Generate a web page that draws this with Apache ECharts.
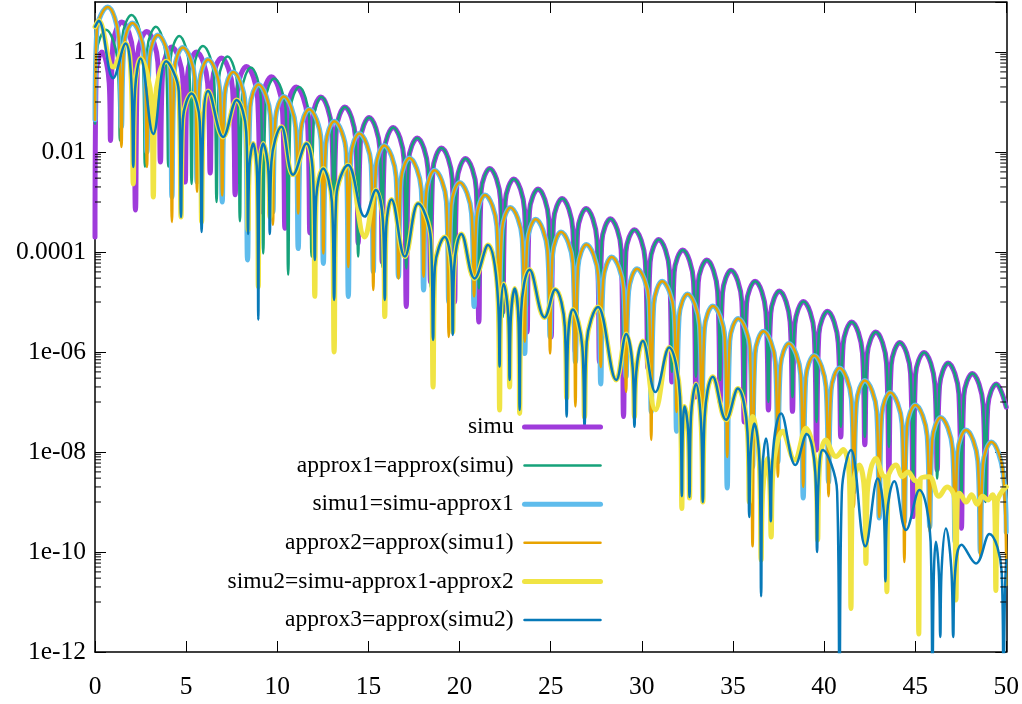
<!DOCTYPE html>
<html>
<head>
<meta charset="utf-8">
<script src="https://cdn.jsdelivr.net/npm/echarts@6.0.0/dist/echarts.min.js"></script>
<style>
  html, body { margin: 0; padding: 0; background: #fff; }
  #chart { width: 1022px; height: 704px; }
</style>
</head>
<body>
<div id="chart"></div>
<script>
// x axis ticks
const xTicks = [0, 5, 10, 15, 20, 25, 30, 35, 40, 45, 50];
// y axis labelled (major) ticks and their texts
const yTickValues = [1e-12, 1e-10, 1e-8, 1e-6, 1e-4, 1e-2, 1];
const yTickLabels = ['1e-12', '1e-10', '1e-08', '1e-06', '0.0001', '0.01', '1'];
// minor ticks: 1..9 times these decades
const minorTickDecades = [1e-11, 1e-9, 1e-7, 1e-5, 1e-3, 1e-1];
const minorTickSteps = [1, 2, 3, 4, 5, 6, 7, 8, 9];

const seriesNames = ['simu', 'approx1=approx(simu)', 'simu1=simu-approx1',
  'approx2=approx(simu1)', 'simu2=simu-approx1-approx2', 'approx3=approx(simu2)'];

// |simu| : [x, value]
const simu = [
  [0, 2e-4], [0.06, 0.35], [0.38, 1.0], [0.78, 0.24],
  [0.85, 1.7e-2], [0.98, 1.4], [1.47, 4.0], [2.08, 0.95],
  [2.22, 6.9e-4], [2.35, 0.91], [2.84, 2.57], [3.45, 0.62],
  [3.59, 6.3e-3], [3.72, 0.45], [4.21, 1.26], [4.81, 0.30],
  [4.95, 2.5e-3], [5.08, 0.35], [5.57, 1.0], [6.18, 0.24],
  [6.32, 3.8e-3], [6.45, 0.27], [6.94, 0.76], [7.55, 0.18],
  [7.69, 1.4e-3], [7.82, 0.18], [8.31, 0.51], [8.92, 0.123],
  [9.06, 6.3e-4], [9.19, 0.115], [9.68, 0.32], [10.28, 0.078],
  [10.42, 3.0e-4], [10.55, 0.072], [11.04, 0.20], [11.65, 0.049],
  [11.79, 2.4e-4], [11.92, 0.045], [12.39, 0.126], [12.98, 0.030],
  [13.11, 3.2e-4], [13.24, 0.028], [13.71, 0.079], [14.30, 0.019],
  [14.44, 1.5e-4], [14.57, 0.0174], [15.04, 0.049], [15.63, 0.0117],
  [15.76, 6.3e-5], [15.89, 0.011], [16.36, 0.031], [16.95, 7.4e-3],
  [17.08, 8.1e-6], [17.21, 6.8e-3], [17.68, 0.019], [18.27, 4.6e-3],
  [18.41, 2.5e-5], [18.54, 4.3e-3], [19.01, 0.012], [19.60, 2.9e-3],
  [19.73, 1e-5], [19.86, 2.6e-3], [20.33, 7.4e-3], [20.92, 1.8e-3],
  [21.06, 4e-6], [21.19, 1.66e-3], [21.66, 4.7e-3], [22.25, 1.12e-3],
  [22.38, 6.3e-6], [22.51, 1.02e-3], [22.98, 2.9e-3], [23.57, 6.9e-4],
  [23.71, 2.5e-6], [23.84, 6.5e-4], [24.31, 1.82e-3], [24.90, 4.4e-4],
  [25.03, 2.0e-6], [25.16, 4.2e-4], [25.63, 1.17e-3], [26.22, 2.8e-4],
  [26.35, 1e-6], [26.48, 2.6e-4], [26.95, 7.4e-4], [27.54, 1.78e-4],
  [27.68, 6.3e-7], [27.81, 1.62e-4], [28.28, 4.6e-4], [28.87, 1.1e-4],
  [29.00, 5.1e-8], [29.13, 1.0e-4], [29.60, 2.8e-4], [30.19, 6.8e-5],
  [30.33, 4.8e-7], [30.46, 6.3e-5], [30.93, 1.78e-4], [31.52, 4.3e-5],
  [31.65, 2.5e-7], [31.78, 3.9e-5], [32.25, 1.1e-4], [32.84, 2.6e-5],
  [32.97, 1.26e-7], [33.10, 2.45e-5], [33.57, 6.9e-5], [34.16, 1.66e-5],
  [34.30, 1e-7], [34.43, 1.51e-5], [34.90, 4.3e-5], [35.49, 1.02e-5],
  [35.62, 4e-8], [35.75, 9.3e-6], [36.22, 2.6e-5], [36.81, 6.3e-6],
  [36.95, 6.9e-8], [37.08, 5.9e-6], [37.55, 1.66e-5], [38.14, 4.0e-6],
  [38.27, 6.5e-8], [38.40, 3.6e-6], [38.87, 1.02e-5], [39.46, 2.45e-6],
  [39.59, 1.1e-8], [39.72, 2.3e-6], [40.19, 6.5e-6], [40.78, 1.55e-6],
  [40.92, 2.0e-8], [41.05, 1.41e-6], [41.52, 4.0e-6], [42.11, 9.5e-7],
  [42.24, 1.4e-8], [42.37, 8.9e-7], [42.84, 2.5e-6], [43.43, 6.0e-7],
  [43.56, 3.8e-9], [43.69, 5.5e-7], [44.16, 1.55e-6], [44.75, 3.7e-7],
  [44.89, 5.1e-10], [45.02, 3.5e-7], [45.49, 9.8e-7], [46.08, 2.3e-7],
  [46.21, 4.4e-9], [46.34, 2.1e-7], [46.81, 6.0e-7], [47.40, 1.45e-7],
  [47.54, 3.0e-10], [47.67, 1.32e-7], [48.14, 3.7e-7], [48.73, 8.9e-8],
  [48.86, 1.1e-9], [48.99, 8.3e-8], [49.46, 2.3e-7], [50, 7.9e-8]
];

// |approx1|
const approx1 = [
  [0, 0.037], [0.1, 1.0], [0.6, 2.8], [1.23, 0.7],
  [1.37, 0.017], [1.5, 1.95], [2.0, 5.5], [2.6, 1.32],
  [2.74, 5.1e-3], [2.87, 1.15], [3.34, 3.2], [3.89, 0.78],
  [4.02, 5.1e-3], [4.15, 0.74], [4.62, 2.1], [5.17, 0.5],
  [5.3, 2.3e-3], [5.43, 0.47], [5.92, 1.32], [6.53, 0.32],
  [6.67, 1.0e-3], [6.8, 0.29], [7.27, 0.81], [7.82, 0.195],
  [7.95, 4.1e-4], [8.08, 0.174], [8.55, 0.49], [9.1, 0.117],
  [9.23, 9.3e-5], [9.36, 0.105], [9.83, 0.295], [10.46, 0.071],
  [10.6, 3.5e-5], [10.73, 0.071], [11.2, 0.20], [11.75, 0.048],
  [11.88, 8.1e-5], [12.0, 0.045], [12.42, 0.126], [12.98, 0.030],
  [13.11, 9.3e-5], [13.24, 0.028], [13.71, 0.079], [14.30, 0.019],
  [14.44, 8.1e-5], [14.57, 0.0174], [15.04, 0.049], [15.63, 0.0117],
  [15.76, 5.0e-5], [15.89, 0.011], [16.36, 0.031], [16.95, 7.4e-3],
  [17.08, 4.7e-5], [17.21, 6.8e-3], [17.68, 0.019], [18.27, 4.6e-3],
  [18.41, 2.0e-5], [18.54, 4.3e-3], [19.01, 0.012], [19.60, 2.9e-3],
  [19.73, 2.75e-5], [19.86, 2.6e-3], [20.33, 7.4e-3], [20.92, 1.8e-3],
  [21.06, 1.86e-5], [21.19, 1.66e-3], [21.66, 4.7e-3], [22.25, 1.12e-3],
  [22.38, 5.0e-6], [22.51, 1.02e-3], [22.98, 2.9e-3], [23.57, 6.9e-4],
  [23.71, 7.9e-6], [23.84, 6.5e-4], [24.31, 1.82e-3], [24.90, 4.4e-4],
  [25.03, 3.2e-6], [25.16, 4.2e-4], [25.63, 1.17e-3], [26.22, 2.8e-4],
  [26.35, 2.0e-6], [26.48, 2.6e-4], [26.95, 7.4e-4], [27.54, 1.78e-4],
  [27.68, 1.26e-6], [27.81, 1.62e-4], [28.28, 4.6e-4], [28.87, 1.1e-4],
  [29.00, 5.0e-7], [29.13, 1.0e-4], [29.60, 2.8e-4], [30.19, 6.8e-5],
  [30.33, 7.9e-7], [30.46, 6.3e-5], [30.93, 1.78e-4], [31.52, 4.3e-5],
  [31.65, 4.0e-7], [31.78, 3.9e-5], [32.25, 1.1e-4], [32.84, 2.6e-5],
  [32.97, 3.2e-7], [33.10, 2.45e-5], [33.57, 6.9e-5], [34.16, 1.66e-5],
  [34.30, 2.75e-7], [34.43, 1.51e-5], [34.90, 4.3e-5], [35.49, 1.02e-5],
  [35.62, 1.26e-7], [35.75, 9.3e-6], [36.22, 2.6e-5], [36.81, 6.3e-6],
  [36.95, 1.0e-7], [37.08, 5.9e-6], [37.55, 1.66e-5], [38.14, 4.0e-6],
  [38.27, 1.26e-7], [38.40, 3.6e-6], [38.87, 1.02e-5], [39.46, 2.45e-6],
  [39.59, 4.0e-8], [39.72, 2.3e-6], [40.19, 6.5e-6], [40.78, 1.55e-6],
  [40.92, 3.2e-8], [41.05, 1.41e-6], [41.52, 4.0e-6], [42.11, 9.5e-7],
  [42.24, 2.0e-8], [42.37, 8.9e-7], [42.84, 2.5e-6], [43.43, 6.0e-7],
  [43.56, 1.26e-8], [43.69, 5.5e-7], [44.16, 1.55e-6], [44.75, 3.7e-7],
  [44.89, 2.5e-9], [45.02, 3.5e-7], [45.49, 9.8e-7], [46.08, 2.3e-7],
  [46.21, 2.95e-9], [46.34, 2.1e-7], [46.81, 6.0e-7], [47.40, 1.45e-7],
  [47.54, 1.26e-9], [47.67, 1.32e-7], [48.14, 3.7e-7], [48.73, 8.9e-8],
  [48.86, 1.0e-9], [48.99, 8.3e-8], [49.46, 2.3e-7], [50, 7.9e-8]
];

// |simu1|
const simu1 = [
  [0, 0.044], [0.1, 2.8], [0.7, 7.9], [1.3, 1.9],
  [1.45, 0.032], [1.59, 1.35], [2.05, 3.8], [2.7, 0.91],
  [2.85, 0.01], [2.99, 0.78], [3.45, 2.19], [4.1, 0.52],
  [4.22, 1.26e-3], [4.36, 0.44], [4.82, 1.23], [5.47, 0.30],
  [5.6, 2.5e-3], [5.74, 0.25], [6.2, 0.71], [6.85, 0.17],
  [6.98, 1e-3], [7.12, 0.141], [7.58, 0.40], [8.23, 0.095],
  [8.37, 6.9e-5], [8.51, 0.079], [8.97, 0.224], [9.62, 0.054],
  [9.76, 6.3e-4], [9.9, 0.046], [10.36, 0.129], [11.01, 0.031],
  [11.15, 1.17e-4], [11.29, 0.026], [11.75, 0.072], [12.4, 0.0174],
  [12.53, 5.9e-5], [12.67, 0.0145], [13.13, 0.041], [13.78, 9.8e-3],
  [13.9, 1.29e-5], [14.04, 8.3e-3], [14.5, 0.0234], [15.15, 5.6e-3],
  [15.27, 4e-5], [15.41, 4.8e-3], [15.87, 0.0135], [16.52, 3.2e-3],
  [16.65, 3.2e-5], [16.79, 2.7e-3], [17.25, 7.6e-3], [17.9, 1.82e-3],
  [18.03, 1.74e-5], [18.17, 1.51e-3], [18.63, 4.3e-3], [19.28, 1.02e-3],
  [19.41, 1e-5], [19.55, 8.7e-4], [20.01, 2.45e-3], [20.66, 5.9e-4],
  [20.80, 8.1e-6], [20.94, 4.9e-4], [21.40, 1.38e-3], [22.05, 3.3e-4],
  [22.19, 4e-6], [22.33, 2.75e-4], [22.79, 7.8e-4], [23.44, 1.86e-4],
  [23.58, 9.3e-7], [23.72, 1.58e-4], [24.18, 4.5e-4], [24.83, 1.07e-4],
  [24.97, 2.0e-6], [25.11, 8.9e-5], [25.57, 2.5e-4], [26.22, 6.0e-5],
  [26.36, 6.3e-7], [26.5, 5.0e-5], [26.96, 1.41e-4], [27.61, 3.4e-5],
  [27.75, 2.3e-7], [27.89, 2.8e-5], [28.35, 7.9e-5], [29.0, 1.9e-5],
  [29.14, 3.2e-7], [29.28, 1.62e-5], [29.74, 4.6e-5], [30.39, 1.1e-5],
  [30.52, 6.3e-8], [30.66, 9.1e-6], [31.12, 2.6e-5], [31.77, 6.2e-6],
  [31.91, 2.6e-8], [32.05, 5.1e-6], [32.51, 1.45e-5], [33.16, 3.5e-6],
  [33.30, 4e-8], [33.44, 2.95e-6], [33.9, 8.3e-6], [34.55, 2.0e-6],
  [34.69, 1.9e-9], [34.83, 1.66e-6], [35.29, 4.7e-6], [35.94, 1.12e-6],
  [36.08, 5e-9], [36.22, 9.3e-7], [36.68, 2.6e-6], [37.33, 6.3e-7],
  [37.47, 6.3e-9], [37.61, 5.2e-7], [38.07, 1.48e-6], [38.72, 3.5e-7],
  [38.86, 1.2e-9], [39.0, 3.0e-7], [39.46, 8.5e-7], [40.11, 2.0e-7],
  [40.25, 2.5e-9], [40.39, 1.7e-7], [40.85, 4.8e-7], [41.5, 1.15e-7],
  [41.64, 1.6e-9], [41.78, 9.5e-8], [42.24, 2.7e-7], [42.89, 6.5e-8],
  [43.03, 4.8e-10], [43.17, 5.5e-8], [43.63, 1.55e-7], [44.28, 3.7e-8],
  [44.41, 4e-10], [44.55, 3.1e-8], [45.01, 8.7e-8], [45.66, 2.1e-8],
  [45.80, 3.2e-10], [45.94, 1.74e-8], [46.4, 4.9e-8], [47.05, 1.17e-8],
  [47.19, 1.6e-10], [47.33, 9.8e-9], [47.79, 2.75e-8], [48.44, 6.6e-9],
  [48.58, 1e-10], [48.72, 5.6e-9], [49.18, 1.58e-8], [49.83, 3.8e-9],
  [50, 2.5e-10]
];

// |approx2|
const approx2 = [
  [0, 0.044], [0.1, 2.8], [0.7, 7.9], [1.3, 1.9],
  [1.45, 0.0126], [1.59, 1.35], [2.05, 3.8], [2.7, 0.91],
  [2.85, 5e-3], [2.99, 0.78], [3.45, 2.19], [4.1, 0.52],
  [4.22, 4e-4], [4.36, 0.44], [4.82, 1.23], [5.47, 0.30],
  [5.6, 1.6e-3], [5.74, 0.25], [6.2, 0.71], [6.85, 0.17],
  [6.98, 1.35e-3], [7.12, 0.141], [7.58, 0.40], [8.23, 0.095],
  [8.37, 3.2e-4], [8.51, 0.079], [8.97, 0.224], [9.62, 0.054],
  [9.76, 3.5e-4], [9.9, 0.046], [10.36, 0.129], [11.01, 0.031],
  [11.15, 5.9e-4], [11.29, 0.026], [11.75, 0.072], [12.4, 0.0174],
  [12.53, 9.3e-5], [12.67, 0.0145], [13.13, 0.041], [13.78, 9.8e-3],
  [13.9, 5e-5], [14.04, 8.3e-3], [14.5, 0.0234], [15.15, 5.6e-3],
  [15.27, 1.74e-5], [15.41, 4.8e-3], [15.87, 0.0135], [16.52, 3.2e-3],
  [16.65, 2.95e-5], [16.79, 2.7e-3], [17.25, 7.6e-3], [17.9, 1.82e-3],
  [18.03, 3.2e-5], [18.17, 1.51e-3], [18.63, 4.3e-3], [19.28, 1.02e-3],
  [19.41, 2e-6], [19.55, 8.7e-4], [20.01, 2.45e-3], [20.66, 5.9e-4],
  [20.80, 1.29e-5], [20.94, 4.9e-4], [21.40, 1.38e-3], [22.05, 3.3e-4],
  [22.19, 2.5e-6], [22.33, 2.75e-4], [22.79, 7.8e-4], [23.44, 1.86e-4],
  [23.58, 1.6e-6], [23.72, 1.58e-4], [24.18, 4.5e-4], [24.83, 1.07e-4],
  [24.97, 9.3e-7], [25.11, 8.9e-5], [25.57, 2.5e-4], [26.22, 6.0e-5],
  [26.36, 8.1e-8], [26.5, 5.0e-5], [26.96, 1.41e-4], [27.61, 3.4e-5],
  [27.75, 5e-7], [27.89, 2.8e-5], [28.35, 7.9e-5], [29.0, 1.9e-5],
  [29.14, 1.6e-7], [29.28, 1.62e-5], [29.74, 4.6e-5], [30.39, 1.1e-5],
  [30.52, 1.74e-8], [30.66, 9.1e-6], [31.12, 2.6e-5], [31.77, 6.2e-6],
  [31.91, 6.3e-8], [32.05, 5.1e-6], [32.51, 1.45e-5], [33.16, 3.5e-6],
  [33.30, 1.26e-8], [33.44, 2.95e-6], [33.9, 8.3e-6], [34.55, 2.0e-6],
  [34.69, 7.9e-9], [34.83, 1.66e-6], [35.29, 4.7e-6], [35.94, 1.12e-6],
  [36.08, 1.3e-10], [36.22, 9.3e-7], [36.68, 2.6e-6], [37.33, 6.3e-7],
  [37.47, 3.2e-9], [37.61, 5.2e-7], [38.07, 1.48e-6], [38.72, 3.5e-7],
  [38.86, 2e-9], [39.0, 3.0e-7], [39.46, 8.5e-7], [40.11, 2.0e-7],
  [40.25, 1.3e-9], [40.39, 1.7e-7], [40.85, 4.8e-7], [41.5, 1.15e-7],
  [41.64, 7.9e-10], [41.78, 9.5e-8], [42.24, 2.7e-7], [42.89, 6.5e-8],
  [43.03, 5e-10], [43.17, 5.5e-8], [43.63, 1.55e-7], [44.28, 3.7e-8],
  [44.41, 6.3e-11], [44.55, 3.1e-8], [45.01, 8.7e-8], [45.66, 2.1e-8],
  [45.80, 2.5e-10], [45.94, 1.74e-8], [46.4, 4.9e-8], [47.05, 1.17e-8],
  [47.19, 1.26e-10], [47.33, 9.8e-9], [47.79, 2.75e-8], [48.44, 6.6e-9],
  [48.58, 7.9e-11], [48.72, 5.6e-9], [49.18, 1.58e-8], [49.83, 3.8e-9],
  [50, 2.2e-11]
];

// |simu2|
const simu2 = [
  [0, 3.2], [0.2, 4.2], [1.0, 0.5], [1.68, 1.48],
  [1.98, 0.32], [2.1, 2.3e-3], [2.2, 0.18], [2.5, 0.74],
  [3.1, 0.1], [3.2, 1.26e-3], [3.3, 0.1], [3.9, 0.65],
  [4.6, 0.16], [4.72, 5.0e-4], [4.82, 0.045], [5.3, 0.148],
  [5.75, 0.04], [5.85, 4e-4], [5.95, 0.045], [6.2, 0.166],
  [7.03, 0.02], [7.77, 0.11],
  [8.3, 0.025], [8.4, 2.75e-4], [8.47, 5e-3], [8.68, 0.0148],
  [8.9, 3.2e-3], [8.96, 2e-5], [9.02, 3.2e-3], [9.23, 0.0148],
  [9.52, 4e-3], [9.59, 5e-4], [9.68, 6.3e-3], [10.23, 0.032],
  [10.87, 3.5e-3], [11.6, 0.0148],
  [11.96, 3.5e-3], [12.06, 1.3e-5], [12.14, 1.26e-3], [12.52, 4.7e-3],
  [13.0, 1e-3], [13.12, 1e-6], [13.24, 1.26e-3], [13.89, 5.5e-3],
  [14.8, 2e-4], [15.41, 1.74e-3],
  [15.8, 4e-4], [15.9, 5.1e-6], [15.98, 3.2e-4], [16.27, 1.12e-3],
  [17.0, 8.1e-5], [17.73, 9.3e-4],
  [18.43, 1.78e-4], [18.55, 2.0e-7], [18.65, 5e-5], [19.19, 2.0e-4],
  [19.55, 5e-5], [19.63, 2.5e-6], [19.71, 5e-5], [20.1, 2.3e-4],
  [20.83, 2.95e-5], [21.56, 1.38e-4],
  [22.12, 1e-5], [22.2, 6.9e-8], [22.26, 6.3e-6], [22.42, 2.3e-5],
  [22.68, 5e-6], [22.75, 2.0e-7], [22.82, 5e-6], [23.03, 1.86e-5],
  [23.24, 4e-6], [23.3, 5.9e-8], [23.38, 6.3e-6], [23.85, 4.4e-5],
  [24.67, 4.9e-6], [25.25, 1.78e-5],
  [25.78, 3.2e-6], [25.88, 1.2e-7], [25.96, 2e-6], [26.22, 7.1e-6],
  [26.74, 1.26e-6], [26.86, 5e-8], [26.98, 1.6e-6], [27.6, 7.9e-6],
  [28.6, 2.75e-7], [29.15, 2.3e-6],
  [29.5, 5e-7], [29.6, 5e-8], [29.7, 4e-7], [30.06, 1.66e-6],
  [30.75, 7e-8], [31.5, 1.23e-6],
  [32.1, 1.26e-7], [32.2, 7.4e-10], [32.25, 2.5e-8], [32.35, 8.1e-8],
  [32.55, 2.5e-8], [32.62, 1.2e-9], [32.7, 5e-8], [32.98, 2.3e-7],
  [33.25, 4e-8], [33.35, 1e-9], [33.45, 5e-8], [33.9, 3.2e-7],
  [34.63, 4.4e-8], [35.27, 1.86e-7],
  [35.8, 2.5e-8], [35.9, 1e-9], [35.98, 1e-8], [36.09, 5.1e-8],
  [36.45, 6.3e-9], [36.55, 6.9e-11], [36.64, 1.6e-9], [36.9, 7.4e-9],
  [37.02, 2.5e-9], [37.1, 2.0e-10], [37.2, 4e-9], [37.74, 2.6e-8],
  [38.38, 6.9e-9], [39.0, 3.0e-8],
  [39.55, 4e-9], [39.65, 1.74e-10], [39.75, 5e-9], [40.1, 1.74e-8],
  [40.66, 8.1e-9], [41.05, 1.12e-8],
  [41.4, 2.5e-9], [41.48, 7.4e-12], [41.56, 1.6e-9], [41.94, 5.5e-9],
  [42.22, 1.6e-9], [42.3, 5.9e-11], [42.38, 1.6e-9], [42.85, 7.4e-9],
  [43.2, 3.5e-9], [43.38, 3e-9], [43.45, 1.6e-11], [43.52, 3e-9], [43.96, 5.5e-9],
  [44.3, 3.2e-9], [44.6, 4e-9], [44.95, 2.75e-9],
  [45.13, 2.5e-9], [45.2, 2.3e-12], [45.28, 2.8e-9], [45.78, 3.2e-9],
  [46.3, 1.3e-9], [46.75, 2e-9],
  [47.16, 1.2e-9], [47.24, 1.1e-11], [47.32, 1.3e-9], [47.42, 1.5e-9],
  [47.8, 1.0e-9], [48.1, 1.4e-9], [48.4, 9e-10], [48.7, 1.3e-9], [49.0, 1.1e-9], [49.25, 1.4e-9],
  [49.36, 1e-9], [49.43, 1.7e-11], [49.5, 1e-9], [49.7, 1.5e-9], [50, 2e-9]
];

// |approx3|
const approx3 = [
  [0, 3.2], [0.2, 4.2], [1.0, 0.30], [1.68, 1.48],
  [1.98, 0.32], [2.1, 5.0e-3], [2.2, 0.18], [2.5, 0.74],
  [3.2, 0.023], [3.9, 0.65],
  [4.6, 0.16], [4.72, 5.0e-4], [4.82, 0.045], [5.3, 0.148],
  [5.75, 0.04], [5.85, 2.5e-4], [5.95, 0.045], [6.2, 0.166],
  [7.03, 0.020], [7.77, 0.11],
  [8.3, 0.025], [8.4, 2.3e-4], [8.47, 5e-3], [8.68, 0.0148],
  [8.9, 3.2e-3], [8.96, 4.4e-6], [9.02, 3.2e-3], [9.23, 0.0148],
  [9.52, 4e-3], [9.59, 2.3e-4], [9.68, 6.3e-3], [10.23, 0.032],
  [10.87, 3.5e-3], [11.6, 0.0148],
  [11.96, 3.5e-3], [12.06, 6.9e-5], [12.14, 1.26e-3], [12.52, 4.7e-3],
  [13.0, 1e-3], [13.12, 1.1e-5], [13.24, 1.26e-3], [13.89, 5.5e-3],
  [14.8, 5.1e-4], [15.41, 1.74e-3],
  [15.8, 4e-4], [15.9, 1.1e-5], [15.98, 3.2e-4], [16.27, 1.12e-3],
  [17.0, 8.1e-5], [17.73, 9.3e-4],
  [18.43, 1.78e-4], [18.55, 1.74e-6], [18.65, 5e-5], [19.19, 2.0e-4],
  [19.55, 5e-5], [19.63, 2.2e-6], [19.71, 5e-5], [20.1, 2.3e-4],
  [20.83, 2.95e-5], [21.56, 1.38e-4],
  [22.12, 1e-5], [22.2, 5.1e-7], [22.26, 6.3e-6], [22.42, 2.3e-5],
  [22.68, 5e-6], [22.75, 2.75e-7], [22.82, 5e-6], [23.03, 1.86e-5],
  [23.24, 4e-6], [23.3, 6.9e-8], [23.38, 6.3e-6], [23.85, 4.4e-5],
  [24.67, 4.9e-6], [25.25, 1.78e-5],
  [25.78, 3.2e-6], [25.88, 5.1e-8], [25.96, 2e-6], [26.22, 7.1e-6],
  [26.74, 1.26e-6], [26.86, 3.2e-8], [26.98, 1.6e-6], [27.6, 7.9e-6],
  [28.6, 2.75e-7], [29.15, 2.3e-6],
  [29.5, 5e-7], [29.6, 3.2e-8], [29.7, 4e-7], [30.06, 1.66e-6],
  [30.75, 1.58e-7], [31.5, 1.23e-6],
  [32.1, 1.26e-7], [32.2, 1.3e-9], [32.25, 2.5e-8], [32.35, 8.1e-8],
  [32.55, 2.5e-8], [32.62, 1.26e-9], [32.7, 5e-8], [32.98, 2.3e-7],
  [33.25, 4e-8], [33.35, 1.0e-9], [33.45, 5e-8], [33.9, 3.2e-7],
  [34.63, 4.4e-8], [35.27, 1.86e-7],
  [35.8, 2.5e-8], [35.9, 5e-10], [35.98, 1e-8], [36.18, 3.7e-8],
  [36.46, 6.3e-9], [36.55, 1.3e-11], [36.62, 4e-9], [36.82, 1.86e-8],
  [37.0, 4e-9], [37.08, 4.1e-10], [37.16, 6.3e-9], [37.65, 5.9e-8],
  [38.43, 5.5e-9], [39.05, 2.3e-8],
  [39.52, 4e-9], [39.62, 1e-10], [39.7, 2.5e-9], [39.93, 1.1e-8],
  [40.72, 1.6e-9], [40.85, 3e-13], [40.98, 1.6e-9], [41.48, 1.1e-8],
  [42.27, 1.3e-10], [42.95, 2.95e-9],
  [43.28, 6.3e-10], [43.37, 2.6e-11], [43.45, 5e-10], [43.86, 2.6e-9],
  [44.5, 2.75e-10], [45.23, 1.74e-9],
  [45.85, 1.6e-10], [45.95, 3e-13], [46.03, 4e-11], [46.14, 1.6e-10],
  [46.3, 4e-11], [46.38, 2e-12], [46.46, 5e-11], [46.69, 2.95e-10],
  [46.98, 5e-11], [47.09, 2e-12], [47.18, 3.2e-11], [47.55, 1.4e-10],
  [48.34, 5.9e-11], [49.07, 2.3e-10],
  [49.75, 4e-11], [49.85, 3e-13], [49.93, 1.6e-11], [50, 6.9e-11]
];

const seriesData = [simu, approx1, simu1, approx2, simu2, approx3];
const seriesColors = ['#9f3bdb', '#16a27a', '#5fbcec', '#e8a300', '#f0e444', '#0779b8'];
const seriesWidths = [5, 2.5, 5, 2.5, 5, 2.5];

const FONT = 'Liberation Serif';

const minorTicks = [];
minorTickDecades.forEach(function (d) {
  minorTickSteps.forEach(function (k) { minorTicks.push([0, k * d]); });
});

function yLabel(v) {
  for (let i = 0; i < yTickValues.length; i++) {
    if (Math.abs(Math.log10(v) - Math.log10(yTickValues[i])) < 1e-6) return yTickLabels[i];
  }
  return '';
}

const lineSeries = seriesNames.map(function (name, i) {
  return {
    name: name,
    type: 'line',
    xAxisIndex: 0,
    yAxisIndex: 0,
    data: seriesData[i],
    showSymbol: false,
    symbol: 'none',
    smooth: 0.4,
    clip: true,
    silent: true,
    animation: false,
    color: seriesColors[i],
    itemStyle: { color: seriesColors[i] },
    lineStyle: { color: seriesColors[i], width: seriesWidths[i], cap: 'round', join: 'round' },
    emphasis: { disabled: true }
  };
});

// legend entries: plain line samples, thick for the simu* curves
const legendItems = seriesNames.map(function (name, i) {
  return {
    name: name,
    itemStyle: { opacity: 0 },
    lineStyle: { color: seriesColors[i], width: seriesWidths[i], opacity: 1 }
  };
});

const minorTickSeries = {
  type: 'custom',
  name: 'minor ticks',
  xAxisIndex: 0,
  yAxisIndex: 0,
  silent: true,
  clip: false,
  z: 5,
  animation: false,
  data: minorTicks,
  renderItem: function (params, api) {
    const y = api.coord([0, api.value(1)])[1];
    const cs = params.coordSys;
    return {
      type: 'group',
      children: [
        { type: 'line', shape: { x1: cs.x, y1: y, x2: cs.x + 6, y2: y }, style: { stroke: '#000', lineWidth: 1 } },
        { type: 'line', shape: { x1: cs.x + cs.width - 6, y1: y, x2: cs.x + cs.width, y2: y }, style: { stroke: '#000', lineWidth: 1 } }
      ]
    };
  }
};

const axisLine = { show: true, onZero: false, lineStyle: { color: '#000', width: 1.5 } };
const majorTick = { show: true, inside: true, length: 11, lineStyle: { color: '#000', width: 1 } };

const chart = echarts.init(document.getElementById('chart'), null, { renderer: 'canvas' });
chart.setOption({
  animation: false,
  backgroundColor: '#fff',
  grid: { left: 95, right: 15, top: 2, bottom: 52, containLabel: false },
  xAxis: [
    {
      type: 'value', position: 'bottom', min: xTicks[0], max: xTicks[xTicks.length - 1], interval: 5,
      axisLine: axisLine, axisTick: majorTick, splitLine: { show: false },
      axisLabel: { show: true, margin: 22, color: '#000', fontFamily: FONT, fontSize: 25.5 }
    },
    {
      type: 'value', position: 'top', min: xTicks[0], max: xTicks[xTicks.length - 1], interval: 5,
      axisLine: axisLine, axisTick: majorTick, splitLine: { show: false }, axisLabel: { show: false }
    }
  ],
  yAxis: [
    {
      type: 'log', logBase: 10, position: 'left', min: 1e-12, max: 10, interval: 2,
      axisLine: axisLine, axisTick: majorTick, splitLine: { show: false }, minorTick: { show: false },
      axisLabel: { show: true, margin: 9, color: '#000', fontFamily: FONT, fontSize: 25.5, formatter: yLabel, showMaxLabel: false }
    },
    {
      type: 'log', logBase: 10, position: 'right', min: 1e-12, max: 10, interval: 2,
      axisLine: axisLine, axisTick: majorTick, splitLine: { show: false }, axisLabel: { show: false }
    }
  ],
  legend: {
    data: legendItems,
    orient: 'vertical',
    align: 'right',
    right: 419,
    top: 415,
    padding: 0,
    itemWidth: 76,
    itemHeight: 14,
    itemGap: 14.6,
    selectedMode: false,
    formatter: function (n) { return n + ' '; },
    textStyle: { color: '#000', fontFamily: FONT, fontSize: 23.5 }
  },
  series: lineSeries.concat([minorTickSeries])
});
</script>
</body>
</html>
